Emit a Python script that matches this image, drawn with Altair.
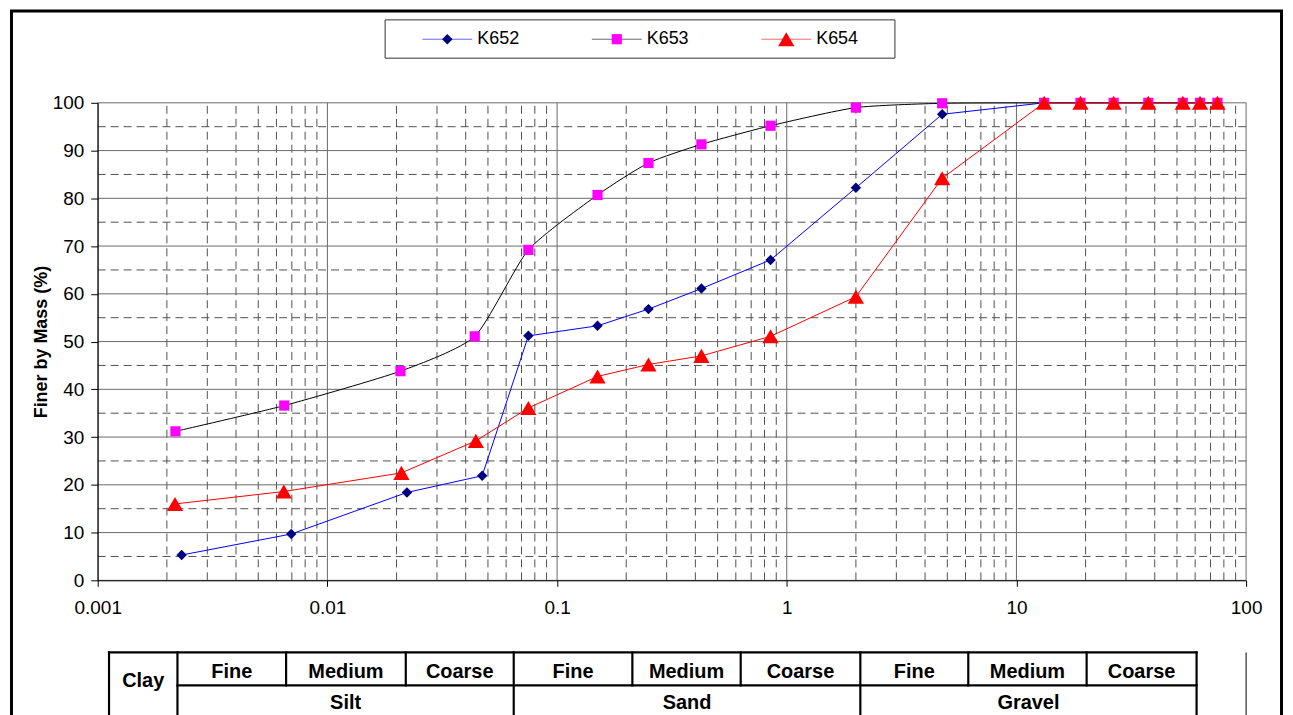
import altair as alt
import pandas as pd

# ---------------- data ----------------
SERIES = ["K652", "K653", "K654"]

SIZE_652 = [0.00232, 0.00696, 0.0222, 0.0472, 0.075, 0.15, 0.25, 0.425, 0.85, 2.0, 4.75,
            13.2, 19.0, 26.5, 37.5, 53.0, 63.0, 75.0]
PASS_652 = [5.3, 9.7, 18.4, 21.9, 51.2, 53.3, 56.8, 61.1, 67.1, 82.2, 97.6,
            100, 100, 100, 100, 100, 100, 100]

SIZE_653 = [0.00218, 0.00649, 0.0208, 0.0438, 0.075, 0.15, 0.25, 0.425, 0.85, 2.0, 4.75,
            13.2, 19.0, 26.5, 37.5, 53.0, 63.0, 75.0]
PASS_653 = [31.2, 36.6, 43.8, 51.1, 69.2, 80.7, 87.4, 91.3, 95.2, 99.0, 99.9,
            100, 100, 100, 100, 100, 100, 100]

SIZE_654 = [0.00217, 0.00646, 0.0210, 0.0443, 0.075, 0.15, 0.25, 0.425, 0.85, 2.0, 4.75,
            13.2, 19.0, 26.5, 37.5, 53.0, 63.0, 75.0]
PASS_654 = [16.0, 18.6, 22.5, 29.2, 36.1, 42.7, 45.2, 47.0, 51.1, 59.4, 84.2,
            100, 100, 100, 100, 100, 100, 100]

X_TICKS = [0.001, 0.01, 0.1, 1, 10, 100]
X_MINOR = [m * d for d in [0.001, 0.01, 0.1, 1, 10] for m in [2, 3, 4, 5, 6, 7, 8, 9]]
Y_TICKS = [0, 10, 20, 30, 40, 50, 60, 70, 80, 90, 100]
Y_MINOR = [5, 15, 25, 35, 45, 55, 65, 75, 85, 95]

# soil classification table (grain-size edges as drawn)
CLASS_EDGES = [0.00112, 0.002224, 0.00661, 0.02194, 0.06475, 0.2127, 0.6301,
               2.091, 6.17, 20.21, 60.85]
SUB_LABELS = ["Fine", "Medium", "Coarse", "Fine", "Medium", "Coarse", "Fine", "Medium", "Coarse"]
MAIN_LABELS = ["Silt", "Sand", "Gravel"]
CLAY_LABEL = "Clay"

FONT = "Liberation Sans"
W, H = 1152, 479

# table vertical levels, in % units below the axis
T_TOP, T_MID, T_BOT = -15.1, -22.0, -29.5

XS = alt.Scale(type="log", domain=[0.001, 100], nice=False)
YS = alt.Scale(domain=[0, 100], nice=False, zero=False)
XA = alt.Axis(values=X_TICKS, format="~g", grid=False, tickSize=6, tickColor="black",
              domainColor="black", labelFont=FONT, labelFontSize=19, labelColor="black",
              labelPadding=12, labelFlush=False, labelOverlap=False, title=None, zindex=1)
YA = alt.Axis(values=Y_TICKS, grid=False, tickSize=7, tickColor="black", domainColor="black",
              labelFont=FONT, labelFontSize=19, labelColor="black", labelPadding=7,
              title="Finer by Mass (%)", titleFont=FONT, titleFontSize=18,
              titleFontWeight="bold", titleColor="black", titlePadding=2, zindex=1)
XE = alt.X("x:Q", scale=XS, axis=XA)
YE = alt.Y("y:Q", scale=YS, axis=YA)

layers = []

# ---------------- gridlines ----------------
vmaj = pd.DataFrame({"x": X_TICKS, "y": 0, "y2": 100})
vmin = pd.DataFrame({"x": X_MINOR, "y": 0, "y2": 100})
hmaj = pd.DataFrame({"y": Y_TICKS, "x": 0.001, "x2": 100})
hmin = pd.DataFrame({"y": Y_MINOR, "x": 0.001, "x2": 100})
GRID_SOLID = "#6a6a6a"
GRID_DASH = "#505050"
layers.append(alt.Chart(vmin).mark_rule(color=GRID_DASH, strokeWidth=1, strokeDash=[8, 5])
              .encode(x=XE, y=YE, y2="y2:Q"))
layers.append(alt.Chart(hmin).mark_rule(color=GRID_DASH, strokeWidth=1, strokeDash=[8, 5])
              .encode(x=XE, x2="x2:Q", y=YE))
layers.append(alt.Chart(vmaj).mark_rule(color=GRID_SOLID, strokeWidth=1)
              .encode(x=XE, y=YE, y2="y2:Q"))
layers.append(alt.Chart(hmaj).mark_rule(color=GRID_SOLID, strokeWidth=1)
              .encode(x=XE, x2="x2:Q", y=YE))

# ---------------- series ----------------
STYLE = {
    "K652": dict(size=SIZE_652, val=PASS_652, line="#0000ff", fill="#000080",
                 shape="diamond", msize=110, interp="linear"),
    "K653": dict(size=SIZE_653, val=PASS_653, line="#000000", fill="#ff00ff",
                 shape="square", msize=105, interp="cardinal"),
    "K654": dict(size=SIZE_654, val=PASS_654, line="#ff0000", fill="#ff0000",
                 shape="triangle-up", msize=265, interp="linear"),
}
for name in SERIES:
    s = STYLE[name]
    df = pd.DataFrame({"x": s["size"], "y": s["val"]})
    opts = dict(color=s["line"], strokeWidth=1, interpolate=s["interp"])
    if s["interp"] == "cardinal":
        opts["tension"] = 0.4
    layers.append(alt.Chart(df).mark_line(**opts).encode(x=XE, y=YE))
for name in SERIES:
    s = STYLE[name]
    df = pd.DataFrame({"x": s["size"], "y": s["val"]})
    layers.append(alt.Chart(df).mark_point(shape=s["shape"], filled=True, fill=s["fill"],
                                           color=s["fill"], opacity=1, size=s["msize"],
                                           strokeWidth=0)
                  .encode(x=XE, y=YE))

# ---------------- classification table ----------------
e = CLASS_EDGES
full_idx = [0, 1, 4, 7, 10]
part_idx = [2, 3, 5, 6, 8, 9]
tv_full = pd.DataFrame({"x": [e[i] for i in full_idx], "y": T_TOP, "y2": T_BOT})
tv_part = pd.DataFrame({"x": [e[i] for i in part_idx], "y": T_TOP, "y2": T_MID})
th = pd.DataFrame({"x": [e[0], e[1]], "x2": [e[10], e[10]], "y": [T_TOP, T_MID]})
edge_line = pd.DataFrame({"x": [100], "y": T_TOP, "y2": T_BOT})
TBL = dict(color="black", strokeWidth=2.2, strokeCap="square")
layers.append(alt.Chart(tv_full).mark_rule(**TBL).encode(x=XE, y=YE, y2="y2:Q"))
layers.append(alt.Chart(tv_part).mark_rule(**TBL).encode(x=XE, y=YE, y2="y2:Q"))
layers.append(alt.Chart(th).mark_rule(**TBL).encode(x=XE, x2="x2:Q", y=YE))
layers.append(alt.Chart(edge_line).mark_rule(color="black", strokeWidth=1)
              .encode(x=XE, y=YE, y2="y2:Q"))


def gmean(a, b):
    return (a * b) ** 0.5


sub_df = pd.DataFrame({"x": [gmean(e[i], e[i + 1]) for i in range(1, 10)],
                       "y": -20.5, "t": SUB_LABELS})
main_df = pd.DataFrame({"x": [gmean(e[1], e[4]), gmean(e[4], e[7]), gmean(e[7], e[10])],
                        "y": -27.0, "t": MAIN_LABELS})
clay_df = pd.DataFrame({"x": [gmean(e[0], e[1])], "y": [-22.4], "t": [CLAY_LABEL]})
TXT = dict(font=FONT, fontSize=20, fontWeight="bold", color="black", align="center",
           baseline="alphabetic")
layers.append(alt.Chart(sub_df).mark_text(**TXT).encode(x=XE, y=YE, text="t:N"))
layers.append(alt.Chart(main_df).mark_text(**TXT).encode(x=XE, y=YE, text="t:N"))
layers.append(alt.Chart(clay_df).mark_text(**TXT).encode(x=XE, y=YE, text="t:N"))

# ---------------- legend (drawn by hand) ----------------
one = pd.DataFrame({"a": [0]})
LG_L, LG_R, LG_T, LG_B = 288.3, 799.7, -83.2, -44.8
LG_Y = -63.8
layers.append(alt.Chart(one).mark_rect(fill="white", stroke="#333333", strokeWidth=1)
              .encode(x=alt.value(LG_L), x2=alt.value(LG_R),
                      y=alt.value(LG_T), y2=alt.value(LG_B)))
for i, name in enumerate(SERIES):
    s = STYLE[name]
    x0 = 325.7 + i * 170.0
    layers.append(alt.Chart(one).mark_rule(color=s["line"], strokeWidth=1, opacity=0.6)
                  .encode(x=alt.value(x0), x2=alt.value(x0 + 50), y=alt.value(LG_Y)))
    layers.append(alt.Chart(one).mark_point(shape=s["shape"], filled=True, fill=s["fill"],
                                            color=s["fill"], opacity=1, size=s["msize"],
                                            strokeWidth=0)
                  .encode(x=alt.value(x0 + 25), y=alt.value(LG_Y)))
    layers.append(alt.Chart(one).mark_text(text=name, font=FONT, fontSize=18, color="black",
                                           align="left", baseline="middle")
                  .encode(x=alt.value(x0 + 55), y=alt.value(LG_Y)))

# ---------------- outer frame ----------------
FR_L, FR_T, FR_R, FR_B = -86.5, -92.0, 1187.5, 620.0
FR = dict(color="black", strokeWidth=3)
layers.append(alt.Chart(one).mark_rule(**FR)
              .encode(x=alt.value(FR_L), y=alt.value(FR_T), y2=alt.value(FR_B)))
layers.append(alt.Chart(one).mark_rule(**FR)
              .encode(x=alt.value(FR_R), y=alt.value(FR_T), y2=alt.value(FR_B)))
layers.append(alt.Chart(one).mark_rule(**FR)
              .encode(x=alt.value(FR_L - 1.5), x2=alt.value(FR_R + 1.5), y=alt.value(FR_T)))

chart = (alt.layer(*layers)
         .properties(width=W, height=H, padding=0, background="white")
         .configure_view(stroke=None))

chart.save("out.html", embed_options={"renderer": "svg", "actions": False})
